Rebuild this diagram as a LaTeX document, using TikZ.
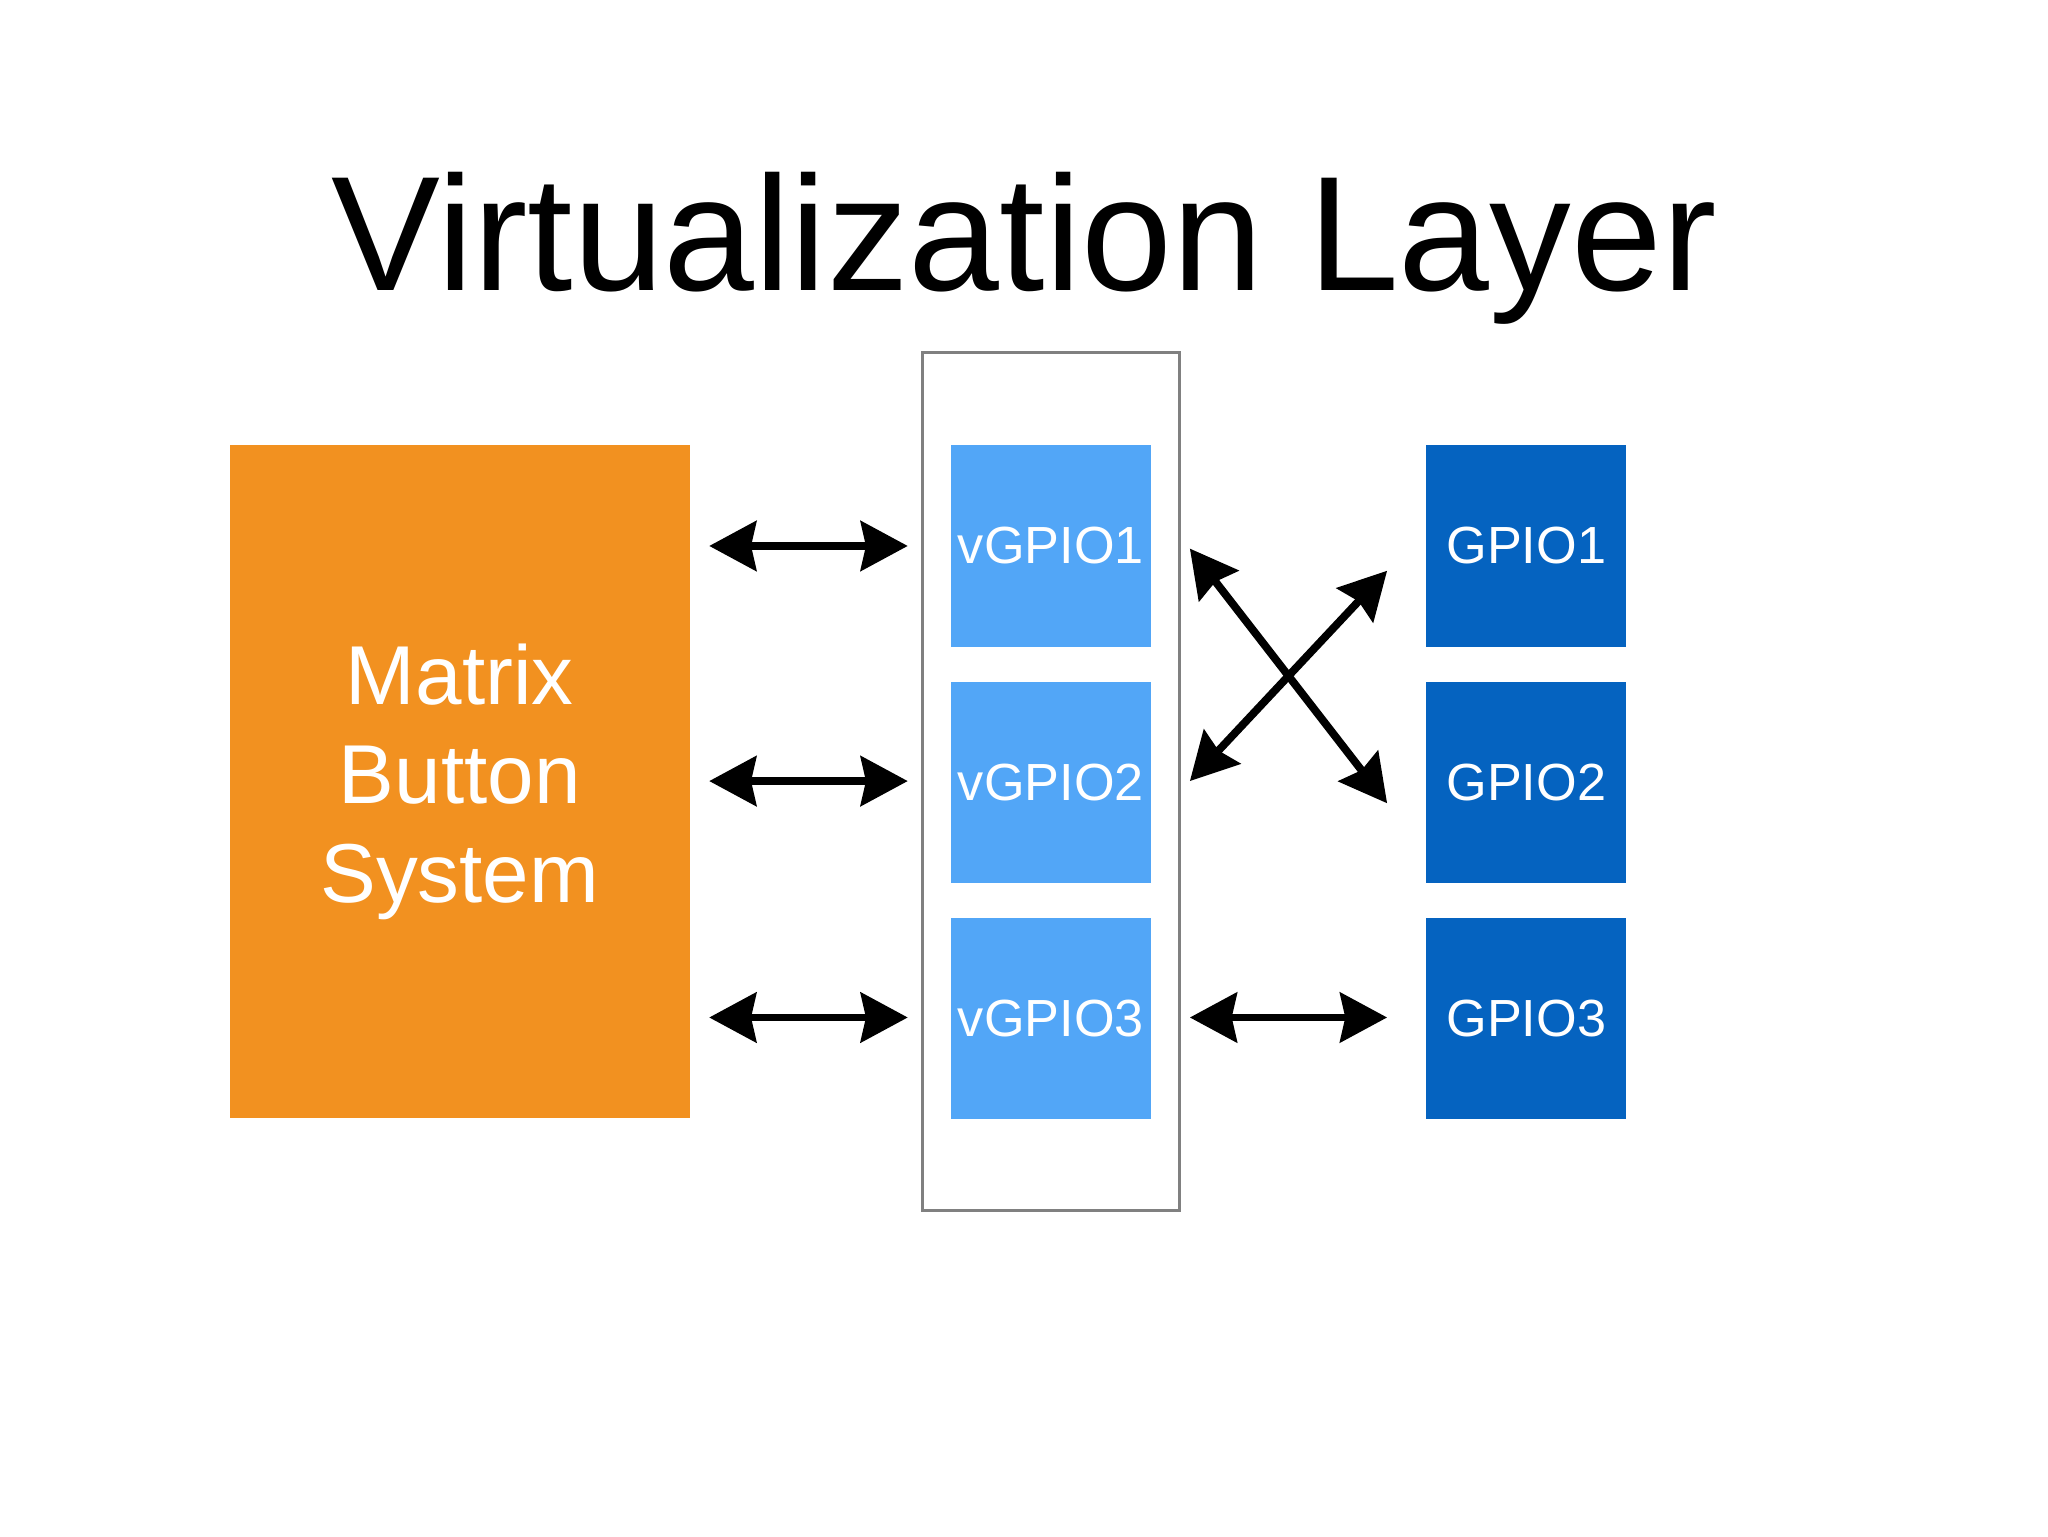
\documentclass[tikz,border=0pt]{standalone}
\usepackage{fontspec}
\setmainfont{Liberation Sans}
\usetikzlibrary{arrows.meta}
\definecolor{orng}{HTML}{F29120}
\definecolor{lblue}{HTML}{52A6F7}
\definecolor{dblue}{HTML}{0563C0}
\begin{document}
\begin{tikzpicture}[x=1pt,y=-1pt,
  box/.style={draw=none,minimum width=153pt,minimum height=154pt,text=white,font=\fontsize{40}{40}\selectfont,inner sep=0pt},
  vbox/.style={box,fill=lblue},
  gbox/.style={box,fill=dblue},
  dbl/.style={line width=6pt,{Stealth[length=36pt,width=38pt,inset=4pt]}-{Stealth[length=36pt,width=38pt,inset=4pt]},shorten <=0pt,shorten >=0pt}]
\useasboundingbox (0,0) rectangle (1568,1176);
\fill[white] (0,0) rectangle (1568,1176);
\node (title) at (784,190) {\fontsize{125}{125}\selectfont Virtualization Layer};
\node[fill=orng,minimum width=352pt,minimum height=515pt,inner sep=0pt,text=white,align=center,font=\fontsize{64}{76}\selectfont] (mbs) at (352,598.5) {Matrix\\Button\\System};
\draw[gray,line width=2.5pt] (706,270) rectangle (903,927);
\node[vbox] (v1) at (804.5,418) {vGPIO1};
\node[vbox] (v2) at (804.5,599) {vGPIO2};
\node[vbox] (v3) at (804.5,780) {vGPIO3};
\node[gbox] (g1) at (1168.5,418) {GPIO1};
\node[gbox] (g2) at (1168.5,599) {GPIO2};
\node[gbox] (g3) at (1168.5,780) {GPIO3};
\coordinate (a1) at (543,418); \coordinate (b1) at (695,418);
\coordinate (a2) at (543,598); \coordinate (b2) at (695,598);
\coordinate (a3) at (543,779); \coordinate (b3) at (695,779);
\coordinate (c3) at (911,779); \coordinate (d3) at (1062,779);
\coordinate (c1) at (911,420); \coordinate (d2) at (1062,615);
\coordinate (c2) at (911,598); \coordinate (d1) at (1062,437);
\draw[dbl] (a1) -- (b1);
\draw[dbl] (a2) -- (b2);
\draw[dbl] (a3) -- (b3);
\draw[dbl] (c3) -- (d3);
\draw[dbl] (c1) -- (d2);
\draw[dbl] (c2) -- (d1);
\end{tikzpicture}
\end{document}
